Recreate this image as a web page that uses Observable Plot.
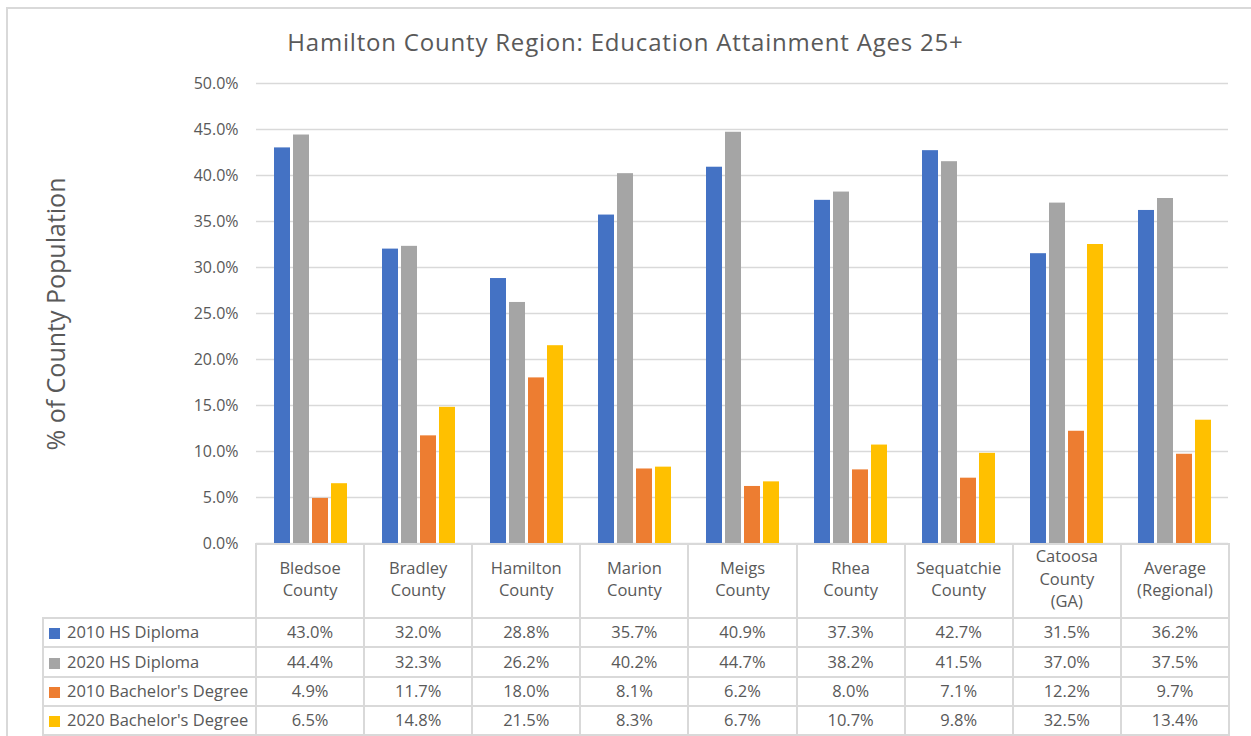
<!DOCTYPE html>
<html>
<head>
<meta charset="utf-8">
<script src="https://cdn.jsdelivr.net/npm/d3@7"></script>
<script src="https://cdn.jsdelivr.net/npm/@observablehq/plot@0.6"></script>
<style>
  html, body { margin: 0; padding: 0; background: #fff; overflow: hidden; }
  #wrap { position: relative; width: 1251px; height: 736px; overflow: hidden; font-family: "Open Sans", sans-serif; color: #595959; }
  #frame { position: absolute; left: 6px; top: 7px; width: 1250px; height: 800px; border: 2px solid #d9d9d9; box-sizing: border-box; }
  #title { position: absolute; left: 0; top: 25px; width: 1251px; text-align: center; font-size: 24px; letter-spacing: 0.8px; white-space: nowrap; }
  #ylabel { position: absolute; left: 55px; top: 314px; transform: translate(-50%, -50%) rotate(-90deg); font-size: 25px; white-space: nowrap; }
  #chart { position: absolute; left: 0; top: 0; }
  #tbl { position: absolute; left: 42px; top: 543px; border-collapse: collapse; table-layout: fixed; font-size: 16.5px; color: #595959; }
  #tbl td { border: 2px solid #d9d9d9; padding: 0; text-align: center; vertical-align: middle; white-space: pre-line; line-height: 22.5px; }
  #tbl tr.hdr td { padding-bottom: 4px; }
  #tbl td.blank { border: none; }
  #tbl td.leg { text-align: left; padding-left: 5px; white-space: nowrap; }
  .sw { display: inline-block; width: 11px; height: 11px; margin-right: 7px; vertical-align: -1px; }
</style>
</head>
<body>
<div id="wrap">
  <div id="frame"></div>
  <div id="title"></div>
  <div id="ylabel"></div>
  <div id="chart"></div>
  <table id="tbl"></table>
</div>
<script>
// ---- data ----
const chartTitle = "Hamilton County Region: Education Attainment Ages 25+";
const yAxisTitle = "% of County Population";
const counties = ["Bledsoe\nCounty", "Bradley\nCounty", "Hamilton\nCounty", "Marion\nCounty", "Meigs\nCounty", "Rhea\nCounty", "Sequatchie\nCounty", "Catoosa\nCounty\n(GA)", "Average\n(Regional)"];
const series = ["2010 HS Diploma", "2020 HS Diploma", "2010 Bachelor's Degree", "2020 Bachelor's Degree"];
const colors = ["#4472C4", "#A5A5A5", "#ED7D31", "#FFC000"];
const hs2010 = [43.0, 32.0, 28.8, 35.7, 40.9, 37.3, 42.7, 31.5, 36.2];
const hs2020 = [44.4, 32.3, 26.2, 40.2, 44.7, 38.2, 41.5, 37.0, 37.5];
const ba2010 = [4.9, 11.7, 18.0, 8.1, 6.2, 8.0, 7.1, 12.2, 9.7];
const ba2020 = [6.5, 14.8, 21.5, 8.3, 6.7, 10.7, 9.8, 32.5, 13.4];
const yTicks = [0, 5, 10, 15, 20, 25, 30, 35, 40, 45, 50];

const seriesValues = [hs2010, hs2020, ba2010, ba2020];
const fmt = v => v.toFixed(1) + "%";

const rows = [];
series.forEach((s, si) => counties.forEach((c, ci) => rows.push({county: c, series: s, value: seriesValues[si][ci]})));

document.getElementById("title").textContent = chartTitle;
document.getElementById("ylabel").textContent = yAxisTitle;

const W = 1251, H = 736, ML = 255, MR = 23, MT = 83, MB = 193;

const chart = Plot.plot({
  width: W, height: H,
  marginLeft: ML, marginRight: MR, marginTop: MT, marginBottom: MB,
  style: {color: "#595959", fontFamily: "Open Sans, sans-serif", background: "transparent"},
  fx: {domain: counties, padding: 0, axis: null},
  x: {domain: series, paddingInner: 0.16, paddingOuter: 0.92, axis: null},
  y: {domain: [0, 50], axis: null},
  color: {domain: series, range: colors},
  marks: [
    Plot.gridY(yTicks, {stroke: "#d9d9d9", strokeOpacity: 1, strokeWidth: 1.5}),
    Plot.axisY({ticks: yTicks, tickSize: 0, tickPadding: 18, tickFormat: fmt, fontSize: 16, label: null}),
    Plot.barY(rows, {fx: "county", x: "series", y: "value", fill: "series"})
  ]
});
document.getElementById("chart").appendChild(chart);

// ---- data table ----
const colW = (W - ML - MR) / counties.length;
const tbl = document.getElementById("tbl");
const cg = document.createElement("colgroup");
const c0 = document.createElement("col"); c0.style.width = (ML - 42) + "px"; cg.appendChild(c0);
counties.forEach(() => { const c = document.createElement("col"); c.style.width = colW + "px"; cg.appendChild(c); });
tbl.appendChild(cg);
tbl.style.width = (ML - 42 + colW * counties.length) + "px";
const hr = document.createElement("tr"); hr.style.height = "74px"; hr.className = "hdr";
const blank = document.createElement("td"); blank.className = "blank"; hr.appendChild(blank);
counties.forEach(c => { const td = document.createElement("td"); td.textContent = c; hr.appendChild(td); });
tbl.appendChild(hr);
series.forEach((s, si) => {
  const tr = document.createElement("tr"); tr.style.height = "29.3px";
  const td0 = document.createElement("td"); td0.className = "leg";
  const sw = document.createElement("span"); sw.className = "sw"; sw.style.background = colors[si];
  td0.appendChild(sw); td0.appendChild(document.createTextNode(s));
  tr.appendChild(td0);
  seriesValues[si].forEach(v => { const td = document.createElement("td"); td.textContent = fmt(v); tr.appendChild(td); });
  tbl.appendChild(tr);
});
</script>
</body>
</html>
